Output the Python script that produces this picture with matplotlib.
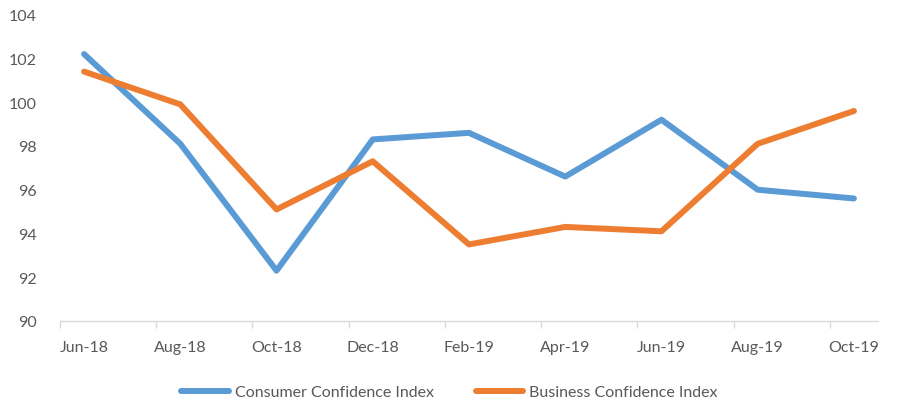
import matplotlib
matplotlib.use("Agg")
import matplotlib.pyplot as plt
import numpy as np

categories = ["Jun-18", "Aug-18", "Oct-18", "Dec-18", "Feb-19", "Apr-19", "Jun-19", "Aug-19", "Oct-19"]
consumer = [102.2, 98.1, 92.3, 98.3, 98.6, 96.6, 99.2, 96.0, 95.6]
business = [101.4, 99.9, 95.1, 97.3, 93.5, 94.3, 94.1, 98.1, 99.6]
yticks = [90, 92, 94, 96, 98, 100, 102, 104]

plt.rcParams['font.family'] = ['Lato', 'DejaVu Sans']
txt = '#595959'
fs = 11.5

fig = plt.figure(figsize=(8.99, 4.02), dpi=100)
ax = fig.add_axes([60/899, 1-322/402, (878-60)/899, (322-15.7)/402])

# month-based date axis: points at month centers, every 2 months
x = np.arange(len(categories)) * 2 + 0.5
ax.plot(x, consumer, color='#5B9BD5', lw=4.3, solid_joinstyle='round', solid_capstyle='round', label='Consumer Confidence Index')
ax.plot(x, business, color='#ED7D31', lw=4.3, solid_joinstyle='round', solid_capstyle='round', label='Business Confidence Index')

ax.set_xlim(0, 17)
ax.set_ylim(90, 104)
ax.set_yticks(yticks)
ax.set_yticklabels([str(v) for v in yticks], color=txt, fontsize=fs)
ax.tick_params(axis='y', length=0, pad=17)

ax.set_xticks(x)
ax.set_xticklabels(categories, color=txt, fontsize=fs)
ax.tick_params(axis='x', which='major', length=0, pad=14)
ax.set_xticks(np.arange(0, 17, 2), minor=True)
ax.tick_params(axis='x', which='minor', length=5, width=1, color='#d9d9d9', direction='out')

for s in ['top', 'right', 'left']:
    ax.spines[s].set_visible(False)
ax.spines['bottom'].set_color('#d9d9d9')
ax.spines['bottom'].set_linewidth(1)

leg = fig.legend(loc='center', bbox_to_anchor=(0.5, 1-393/402), ncol=2, frameon=False,
                 fontsize=fs, handlelength=3.0, columnspacing=2.6, handletextpad=0.35, labelcolor=txt)

fig.savefig('out.png', dpi=100)
